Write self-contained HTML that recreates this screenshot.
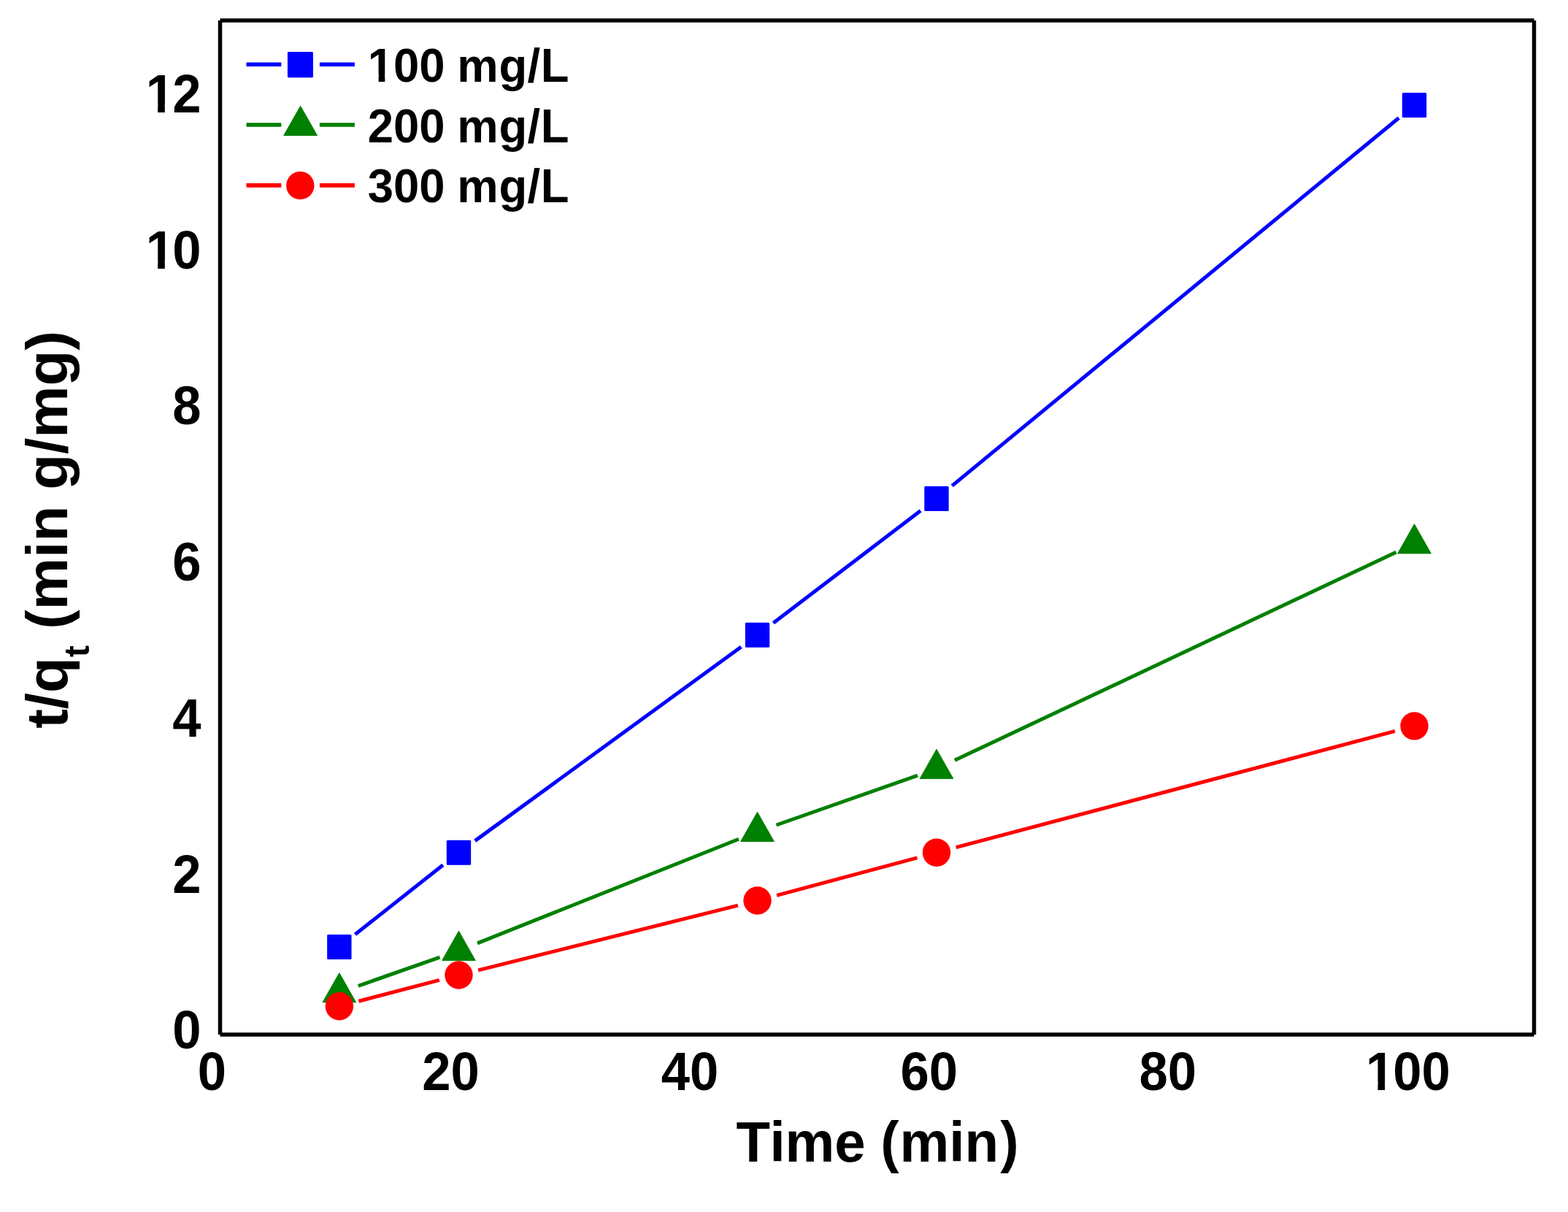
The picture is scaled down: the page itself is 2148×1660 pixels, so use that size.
<!DOCTYPE html>
<html><head><meta charset="utf-8"><title>t/qt vs Time</title>
<style>html,body{margin:0;padding:0;background:#fff;}body{width:2148px;height:1660px;overflow:hidden;}svg{display:block;}text{font-kerning:none;}</style>
</head><body>
<svg width="2148" height="1660" viewBox="0 0 2148 1660"><defs><clipPath id="c1x" clipPathUnits="userSpaceOnUse"><path clip-rule="evenodd" d="M-100 -300H1000V200H-100Z M5.45 -11.03H18.48V2.07H5.45Z M28.16 -11.03H41.37V2.07H28.16Z"/></clipPath><clipPath id="c1y" clipPathUnits="userSpaceOnUse"><path clip-rule="evenodd" d="M-100 -300H1000V200H-100Z M6.05 -11.03H19.08V2.07H6.05Z M28.76 -11.03H41.37V2.07H28.76Z"/></clipPath><clipPath id="c1l" clipPathUnits="userSpaceOnUse"><path clip-rule="evenodd" d="M-100 -300H1000V200H-100Z M3.10 -9.91H14.80V1.86H3.10Z M23.50 -9.91H37.15V1.86H23.50Z"/></clipPath></defs><rect width="2148" height="1660" fill="#fff"/>
<g stroke="#000" stroke-width="5.5" fill="none"><line x1="301.5" y1="28.0" x2="2101.5" y2="28.0"/><line x1="301.5" y1="1417.0" x2="2101.5" y2="1417.0"/><line x1="301.5" y1="28.0" x2="301.5" y2="1417.0"/><line x1="2101.5" y1="28.0" x2="2101.5" y2="1417.0"/></g>
<g stroke="#0000ff" stroke-width="5.0"><line x1="486.42" y1="1279.87" x2="606.87" y2="1184.83"/><line x1="650.69" y1="1151.61" x2="1015.31" y2="885.99"/><line x1="1059.41" y1="853.14" x2="1261.10" y2="699.56"/><line x1="1304.21" y1="665.42" x2="1916.27" y2="161.48"/></g>
<g stroke="#008000" stroke-width="5.0"><line x1="490.78" y1="1350.30" x2="602.51" y2="1311.10"/><line x1="654.01" y1="1291.83" x2="1011.99" y2="1149.27"/><line x1="1063.48" y1="1130.00" x2="1257.03" y2="1062.10"/><line x1="1307.86" y1="1041.28" x2="1912.62" y2="756.32"/></g>
<g stroke="#ff0000" stroke-width="5.0"><line x1="491.44" y1="1371.26" x2="601.85" y2="1342.44"/><line x1="655.14" y1="1328.85" x2="1010.85" y2="1240.15"/><line x1="1064.10" y1="1226.38" x2="1256.42" y2="1174.82"/><line x1="1309.56" y1="1160.66" x2="1910.92" y2="1001.44"/></g>
<g fill="#0000ff"><rect x="448.13" y="1279.90" width="33.40" height="34.00" rx="1.5"/><rect x="611.76" y="1150.80" width="33.40" height="34.00" rx="1.5"/><rect x="1020.84" y="852.80" width="33.40" height="34.00" rx="1.5"/><rect x="1266.28" y="665.90" width="33.40" height="34.00" rx="1.5"/><rect x="1920.80" y="127.00" width="33.40" height="34.00" rx="1.5"/></g>
<g fill="#008000" stroke="#008000" stroke-width="1" stroke-linejoin="round"><polygon points="464.83,1332.60 487.63,1372.80 442.03,1372.80"/><polygon points="628.46,1275.20 651.26,1315.40 605.66,1315.40"/><polygon points="1037.54,1112.30 1060.34,1152.50 1014.74,1152.50"/><polygon points="1282.98,1026.20 1305.78,1066.40 1260.18,1066.40"/><polygon points="1937.50,717.80 1960.30,758.00 1914.70,758.00"/></g>
<g fill="#ff0000"><circle cx="464.83" cy="1378.20" r="19.20"/><circle cx="628.46" cy="1335.50" r="19.20"/><circle cx="1037.54" cy="1233.50" r="19.20"/><circle cx="1282.98" cy="1167.70" r="19.20"/><circle cx="1937.50" cy="994.40" r="19.20"/></g>
<g font-family="'Liberation Sans', Arial, sans-serif" font-weight="bold" fill="#000"><text transform="translate(270.67,1493.30) scale(1,1.05)" font-size="70.6">0</text><text transform="translate(578.34,1493.30) scale(1,1.05)" font-size="70.6">20</text><text transform="translate(905.74,1493.30) scale(1,1.05)" font-size="70.6">40</text><text transform="translate(1233.54,1493.30) scale(1,1.05)" font-size="70.6">60</text><text transform="translate(1560.54,1493.30) scale(1,1.05)" font-size="70.6">80</text><text transform="translate(1869.00,1493.30) scale(1,1.05)" font-size="70.6" clip-path="url(#c1x)" dx="2.00 -2.00">100</text><text transform="translate(236.34,1436.20) scale(1,1.05)" font-size="70.6">0</text><text transform="translate(236.34,1222.51) scale(1,1.05)" font-size="70.6">2</text><text transform="translate(236.34,1008.82) scale(1,1.05)" font-size="70.6">4</text><text transform="translate(236.34,795.12) scale(1,1.05)" font-size="70.6">6</text><text transform="translate(236.34,581.43) scale(1,1.05)" font-size="70.6">8</text><text transform="translate(197.07,367.74) scale(1,1.05)" font-size="70.6" clip-path="url(#c1y)" dx="2.60 -2.60">10</text><text transform="translate(197.07,154.05) scale(1,1.05)" font-size="70.6" clip-path="url(#c1y)" dx="2.60 -2.60">12</text></g>
<g font-family="'Liberation Sans', Arial, sans-serif" font-weight="bold" fill="#000">
<text transform="translate(1008.40,1591.00) scale(1,1.02)" font-size="76.2" dx="0.00 -0.50 0.00 0.00 0.50 -1.30 1.00 0.00 0.00 2.30">Time (min)</text>
<text transform="translate(92.4,997.8) rotate(-90)" font-size="80">t/q<tspan font-size="48" dy="30">t</tspan><tspan dy="-30"> (min g/mg)</tspan></text>
</g>
<g stroke="#0000ff" stroke-width="5.6"><line x1="337.5" y1="88.3" x2="385.30" y2="88.3"/><line x1="437.90" y1="88.3" x2="485.9" y2="88.3"/></g><g stroke="#008000" stroke-width="5.6"><line x1="337.5" y1="171.0" x2="385.30" y2="171.0"/><line x1="437.90" y1="171.0" x2="485.9" y2="171.0"/></g><g stroke="#ff0000" stroke-width="5.6"><line x1="337.5" y1="253.9" x2="385.30" y2="253.9"/><line x1="437.90" y1="253.9" x2="485.9" y2="253.9"/></g><g fill="#0000ff"><rect x="393.90" y="71.10" width="35.00" height="35.20" rx="1.5"/></g><g fill="#008000" stroke="#008000" stroke-width="1" stroke-linejoin="round"><polygon points="411.60,145.30 434.50,185.50 388.70,185.50"/></g><g fill="#ff0000"><circle cx="411.30" cy="254.10" r="19.20"/></g>
<g font-family="'Liberation Sans', Arial, sans-serif" font-weight="bold" fill="#000"><text transform="translate(503.80,112.20) scale(1,1.03)" font-size="63.4" clip-path="url(#c1l)" dx="0.00 0.00 0.00 0.00 -1.00 1.00 0.20 0.50">100 mg/L</text><text transform="translate(503.80,194.90) scale(1,1.03)" font-size="63.4" dx="0.00 0.00 0.00 0.00 -1.00 1.00 0.20 0.50">200 mg/L</text><text transform="translate(503.80,277.30) scale(1,1.03)" font-size="63.4" dx="0.00 0.00 0.00 0.00 -1.00 1.00 0.20 0.50">300 mg/L</text></g>
</svg>
</body></html>
